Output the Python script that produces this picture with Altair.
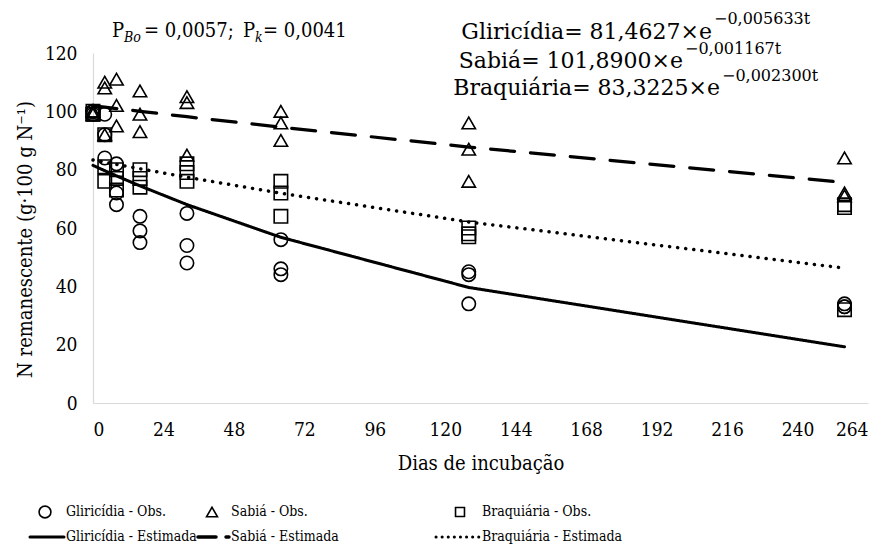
import altair as alt
import numpy as np
import pandas as pd

FONT = "DejaVu Serif"
FONT_C = "DejaVu Serif Condensed, DejaVu Serif"

# Incubation days and observed N remaining (three replicates per day)
days = [0, 4, 8, 16, 32, 64, 128, 256]
species = ["Gliricídia", "Sabiá", "Braquiária"]

gliricidia_obs = [[100, 100, 99], [99, 92, 84], [82, 72, 68], [64, 59, 55],
                  [65, 54, 48], [56, 46, 44], [45, 44, 34], [34, 33, 33]]
sabia_obs = [[100, 100, 99], [110, 108, 92], [111, 102, 95], [107, 99, 93],
             [105, 103, 85], [100, 96, 90], [96, 87, 76], [84, 72, 71]]
braquiaria_obs = [[100, 99, 99], [92, 81, 76], [80, 77, 73], [80, 77, 74],
                  [82, 79, 76], [76, 72, 64], [60, 58, 57], [68, 67, 32]]

# Exponential decay model N = a * exp(-k t)
coef_a = [81.4627, 101.8900, 83.3225]
coef_k = [0.005633, 0.001167, 0.002300]

x_ticks = list(range(0, 265, 24))
y_ticks = list(range(0, 121, 20))

obs_rows = []
for name, obs in zip(species, [gliricidia_obs, sabia_obs, braquiaria_obs]):
    for d, reps in zip(days, obs):
        for v in reps:
            obs_rows.append({"dia": d, "n": v, "especie": name})
obs_df = pd.DataFrame(obs_rows)

fit_rows = []
for name, a, k in zip(species, coef_a, coef_k):
    for d in days:
        fit_rows.append({"dia": d, "n": a * np.exp(-k * d), "especie": name})
fit_df = pd.DataFrame(fit_rows)

# Page layout (pixels)
PAD_L, PAD_T, PAD_R, PAD_B = 93, 53, 17, 145
W, H = 885 - PAD_L - PAD_R, 548 - PAD_T - PAD_B

x_scale = alt.Scale(domain=[0, 264], nice=False, zero=True)
y_scale = alt.Scale(domain=[0, 120], nice=False)

x_enc = alt.X("dia:Q", scale=x_scale,
              axis=alt.Axis(title="Dias de incubação", values=x_ticks, grid=False,
                            ticks=False, tickSize=0, labelPadding=17,
                            titlePadding=14, domainColor="#d9d9d9"))
y_enc = alt.Y("n:Q", scale=y_scale,
              axis=alt.Axis(title="N remanescente  (g·100 g N⁻¹)", values=y_ticks,
                            grid=False, ticks=False, tickSize=0, labelPadding=16,
                            titlePadding=9, titleY=186, domainColor="#d9d9d9"))

points = alt.Chart(obs_df).mark_point(filled=False, color="black", strokeWidth=1.6,
                                      opacity=1).encode(
    x=x_enc,
    y=y_enc,
    shape=alt.Shape("especie:N", legend=None,
                    scale=alt.Scale(domain=species,
                                    range=["circle", "triangle-up", "square"])),
    size=alt.Size("especie:N", legend=None,
                  scale=alt.Scale(domain=species, range=[180, 180, 110])),
)

lines = alt.Chart(fit_df).mark_line(color="black", strokeCap="round").encode(
    x="dia:Q",
    y="n:Q",
    strokeDash=alt.StrokeDash("especie:N", legend=None,
                              scale=alt.Scale(domain=species,
                                              range=[[1, 0], [24, 16], [0.1, 8]])),
    strokeWidth=alt.StrokeWidth("especie:N", legend=None,
                                scale=alt.Scale(domain=species, range=[3, 3.5, 3])),
)

ONE = alt.Data(values=[{}])


def text(t, x, y, size=20, align="left", style="normal", baseline="alphabetic",
         font=FONT):
    """Text placed in page pixels."""
    return alt.Chart(ONE).mark_text(
        text=t, align=align, baseline=baseline, fontSize=size, font=font,
        fontStyle=style, color="black"
    ).encode(x=alt.value(x - PAD_L), y=alt.value(y - PAD_T))


def symbol(shape, x, y, size):
    return alt.Chart(ONE).mark_point(
        shape=shape, size=size, filled=False, color="black", strokeWidth=1.6, opacity=1
    ).encode(x=alt.value(x - PAD_L), y=alt.value(y - PAD_T))


def seg(x1, x2, y, dash, width):
    return alt.Chart(ONE).mark_rule(
        color="black", strokeDash=dash, strokeWidth=width, strokeCap="round"
    ).encode(x=alt.value(x1 - PAD_L), x2=alt.value(x2 - PAD_L), y=alt.value(y - PAD_T))


# Significance note and fitted equations
notes = [
    text("P", 112, 37, 20, font=FONT_C),
    text("Bo", 124, 42, 14, style="italic", font=FONT_C),
    text("= 0,0057;", 144, 37, 20, font=FONT_C),
    text("P", 243, 37, 20, font=FONT_C),
    text("k", 255, 42, 14, style="italic", font=FONT_C),
    text("= 0,0041", 263, 37, 20, font=FONT_C),
    text("Gliricídia= 81,4627×e", 712, 39, 22, align="right"),
    text("−0,005633t", 714, 24, 16),
    text("Sabiá= 101,8900×e", 683, 68, 22, align="right"),
    text("−0,001167t", 685, 54, 16),
    text("Braquiária= 83,3225×e", 720, 95, 22, align="right"),
    text("−0,002300t", 722, 81, 16),
]

# Legend
ROW1, ROW2 = 512, 537
LEG = 14
legend = [
    symbol("circle", 45, ROW1, 140),
    text("Gliricídia - Obs.", 66, ROW1, LEG, baseline="middle", font=FONT_C),
    symbol("triangle-up", 212, ROW1, 120),
    text("Sabiá - Obs.", 231, ROW1, LEG, baseline="middle", font=FONT_C),
    symbol("square", 460, ROW1, 80),
    text("Braquiária - Obs.", 482, ROW1, LEG, baseline="middle", font=FONT_C),
    seg(30, 64, ROW2, [1, 0], 3),
    text("Gliricídia - Estimada", 66, ROW2, LEG, baseline="middle", font=FONT_C),
    seg(198, 229, ROW2, [18, 10], 3.5),
    text("Sabiá - Estimada", 231, ROW2, LEG, baseline="middle", font=FONT_C),
    seg(436, 479, ROW2, [0.1, 6], 3),
    text("Braquiária - Estimada", 482, ROW2, LEG, baseline="middle", font=FONT_C),
]

chart = alt.layer(lines, points, *notes, *legend).properties(
    width=W, height=H,
    autosize=alt.AutoSizeParams(type="none"),
    padding={"left": PAD_L, "top": PAD_T, "right": PAD_R, "bottom": PAD_B},
    background="white",
).configure_view(stroke=None).configure_axis(
    labelFont=FONT_C, titleFont=FONT_C, labelFontSize=19, titleFontSize=20,
    labelColor="black", titleColor="black", titleFontWeight="normal", domainWidth=1.2,
)

chart.save("out.html", embed_options={"renderer": "svg", "actions": False})
